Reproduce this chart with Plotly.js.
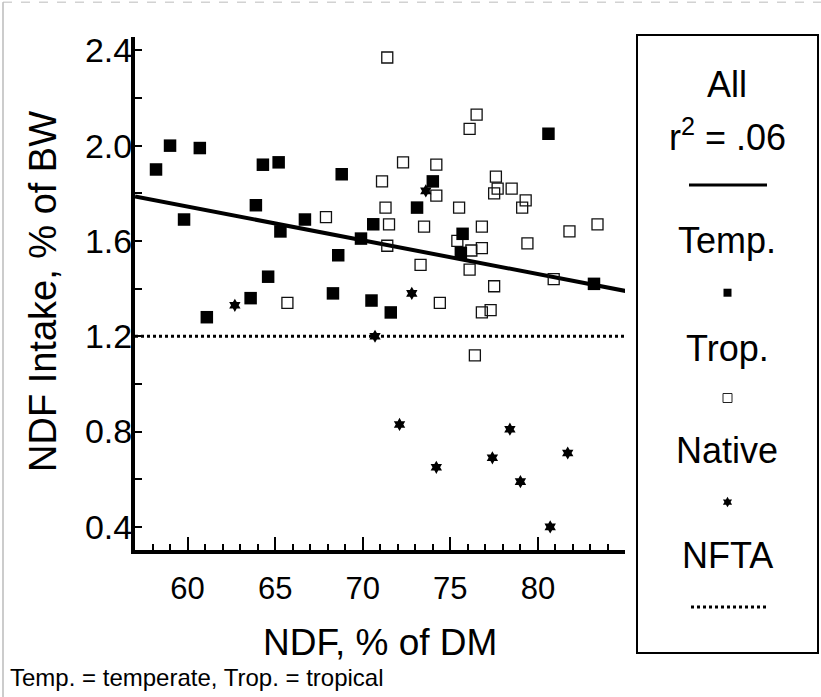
<!DOCTYPE html>
<html>
<head>
<meta charset="utf-8">
<script src="https://cdn.plot.ly/plotly-3.0.1.min.js"></script>
<style>html,body{margin:0;padding:0;background:#fff;}#chart{width:821px;height:697px;}</style>
</head>
<body>
<div id="chart"></div>
<script>
// Temperate grasses (filled squares)
const tempX = [58.2, 59.0, 60.7, 59.8, 64.3, 65.2, 63.9, 65.3, 66.7, 68.8, 69.9, 70.6, 68.6, 64.6, 68.3, 61.1, 63.6, 70.5, 71.6, 74.0, 73.1, 75.7, 75.6, 80.6, 83.2];
const tempY = [1.90, 2.00, 1.99, 1.69, 1.92, 1.93, 1.75, 1.64, 1.69, 1.88, 1.61, 1.67, 1.54, 1.45, 1.38, 1.28, 1.36, 1.35, 1.30, 1.85, 1.74, 1.63, 1.55, 2.05, 1.42];
// Tropical grasses (open squares)
const tropX = [67.9, 71.4, 76.5, 76.1, 72.3, 74.2, 71.1, 74.2, 77.6, 78.5, 77.7, 77.5, 79.3, 79.1, 71.3, 75.5, 71.5, 73.5, 76.8, 81.8, 83.4, 75.4, 79.4, 76.2, 76.8, 71.4, 73.3, 76.1, 80.9, 77.5, 65.7, 74.4, 76.8, 77.3, 76.4];
const tropY = [1.70, 2.37, 2.13, 2.07, 1.93, 1.92, 1.85, 1.79, 1.87, 1.82, 1.82, 1.80, 1.77, 1.74, 1.74, 1.74, 1.67, 1.66, 1.66, 1.64, 1.67, 1.60, 1.59, 1.56, 1.57, 1.58, 1.50, 1.48, 1.44, 1.41, 1.34, 1.34, 1.30, 1.31, 1.12];
// Native grasses (stars)
const natX = [62.7, 70.7, 72.8, 73.6, 72.1, 74.2, 77.4, 78.4, 79.0, 81.7, 80.7];
const natY = [1.33, 1.20, 1.38, 1.81, 0.83, 0.65, 0.69, 0.81, 0.59, 0.71, 0.40];
// Regression line (All, r2 = .06)
const regX = [57, 85];
const regY = [1.787, 1.39];
// NFTA reference
const nftaX = [57, 85];
const nftaY = [1.2, 1.2];

const xTitle = 'NDF, % of DM';
const yTitle = 'NDF Intake, % of BW';
const legendLabels = ['All', 'r<sup>2</sup> = .06', 'Temp.', 'Trop.', 'Native', 'NFTA'];
const footnote = 'Temp. = temperate, Trop. = tropical';

const FONT = 'Liberation Sans, Arial, sans-serif';

const traces = [
  {x: regX, y: regY, mode: 'lines', line: {color: '#000', width: 4}, hoverinfo: 'skip'},
  {x: nftaX, y: nftaY, mode: 'lines', line: {color: '#000', width: 3, dash: 'dot'}, hoverinfo: 'skip'},
  {x: tropX, y: tropY, mode: 'markers', marker: {symbol: 'square-open', size: 11, color: '#111', line: {width: 1.3}}},
  {x: tempX, y: tempY, mode: 'markers', marker: {symbol: 'square', size: 12.5, color: '#000'}},
  {x: natX, y: natY, mode: 'markers', marker: {symbol: 'hexagram', size: 10, color: '#000'}},
  // legend keys on overlay axes
  {x: [0.5], y: [0.583], xaxis: 'x2', yaxis: 'y2', mode: 'markers', marker: {symbol: 'square', size: 8, color: '#000'}},
  {x: [0.5], y: [0.4126], xaxis: 'x2', yaxis: 'y2', mode: 'markers', marker: {symbol: 'square-open', size: 9, color: '#222', line: {width: 1}}},
  {x: [0.5], y: [0.2443], xaxis: 'x2', yaxis: 'y2', mode: 'markers', marker: {symbol: 'hexagram', size: 8, color: '#000'}}
];

const lx = 0.8637;
const legendY = [0.89796, 0.81947, 0.65463, 0.48352, 0.32496, 0.15856];
const annotations = legendLabels.map((t, i) => ({
  text: t, x: lx, y: legendY[i], xref: 'paper', yref: 'paper', showarrow: false,
  xanchor: 'center', yanchor: 'middle', font: {family: FONT, size: 36, color: '#000'}
}));
annotations.push({text: footnote, x: -0.1851, y: -0.0314, xref: 'paper', yref: 'paper', showarrow: false,
  xanchor: 'left', yanchor: 'middle', font: {family: FONT, size: 24, color: '#000'}});
annotations.push({text: xTitle, x: 0.35714, y: 0.022, xref: 'paper', yref: 'paper', showarrow: false,
  xanchor: 'center', yanchor: 'middle', font: {family: FONT, size: 37, color: '#000'}});
annotations.push({text: yTitle, x: -0.1341, y: 0.573, xref: 'paper', yref: 'paper', showarrow: false,
  textangle: -90, xanchor: 'center', yanchor: 'middle', font: {family: FONT, size: 38, color: '#000'}});

const layout = {
  width: 821, height: 697,
  margin: {l: 135, r: 0, t: 20, b: 40},
  paper_bgcolor: '#fff', plot_bgcolor: '#fff',
  showlegend: false,
  font: {family: FONT, color: '#000'},
  xaxis: {
    domain: [0, 0.71429], range: [57, 84.97], tick0: 60, dtick: 5,
    showline: true, linewidth: 4, linecolor: '#000', showgrid: false, zeroline: false,
    ticks: 'inside', ticklen: 13, tickwidth: 2, tickcolor: '#000',
    minor: {dtick: 1, ticks: 'inside', ticklen: 6, tickwidth: 2, tickcolor: '#000'},
    tickfont: {family: FONT, size: 31, color: '#000'}, ticklabelstandoff: 8
  },
  yaxis: {
    domain: [0.16797, 0.97331], range: [0.303, 2.456], tick0: 0.4, dtick: 0.4, tickformat: '.1f',
    showline: true, linewidth: 4, linecolor: '#000', showgrid: false, zeroline: false,
    ticks: 'inside', ticklen: 7, tickwidth: 2, tickcolor: '#000',
    minor: {dtick: 0.2, ticks: 'inside', ticklen: 7, tickwidth: 2, tickcolor: '#000'},
    tickfont: {family: FONT, size: 34, color: '#000'}, ticklabelstandoff: -8
  },
  xaxis2: {domain: [0.73178, 0.99563], range: [0, 1], visible: false, anchor: 'y2'},
  yaxis2: {domain: [0.00628, 0.97645], range: [0, 1], visible: false, anchor: 'x2'},
  shapes: [
    {type: 'rect', xref: 'paper', yref: 'paper', x0: 0.73178, x1: 0.99563, y0: 0.00628, y1: 0.97645,
     line: {color: '#000', width: 2}},
    {type: 'line', xref: 'paper', yref: 'paper', x0: 0.80758, x1: 0.92128, y0: 0.74097, y1: 0.74097,
     line: {color: '#000', width: 3}},
    {type: 'line', xref: 'paper', yref: 'paper', x0: 0.81050, x1: 0.92274, y0: 0.07849, y1: 0.07849,
     line: {color: '#000', width: 3, dash: 'dot'}},
    {type: 'line', xref: 'paper', yref: 'paper', x0: -0.1924, x1: -0.1924, y0: 1.028, y1: -0.063,
     line: {color: '#999', width: 1}},
    {type: 'line', xref: 'paper', yref: 'paper', x0: -0.1924, x1: 1.0, y0: 1.028, y1: 1.028,
     line: {color: '#bbb', width: 1, dash: 'dash'}}
  ],
  annotations: annotations
};

Plotly.newPlot('chart', traces, layout, {displayModeBar: false, staticPlot: true});
</script>
</body>
</html>
